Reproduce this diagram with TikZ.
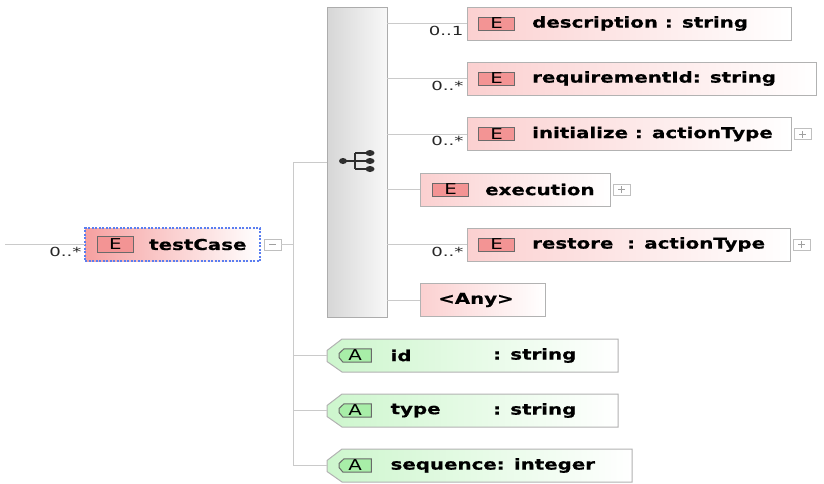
\documentclass[tikz,border=0pt]{standalone}
\usepackage{fontspec}
\newfontfamily\xsdfont[FakeStretch=1.32, BoldFeatures={FakeBold=0.6}]{DejaVu Sans}
\newfontfamily\multfont[FakeStretch=1.45]{DejaVu Sans}
\usetikzlibrary{positioning,backgrounds}

\definecolor{elemfill}{HTML}{FBD0D0}
\definecolor{rootfill}{HTML}{F6A0A0}
\definecolor{badgered}{HTML}{F39494}
\definecolor{badgeedge}{HTML}{6A6A6A}
\definecolor{attrfill}{HTML}{CDF6CD}
\definecolor{badgegreen}{HTML}{A8EEA8}
\definecolor{wiregray}{HTML}{CACACA}
\definecolor{boxgray}{HTML}{B2B2B2}
\definecolor{focusblue}{HTML}{5A7EF0}
\definecolor{compleft}{HTML}{D6D6D6}
\definecolor{compright}{HTML}{F8F8F8}
\definecolor{iconfill}{HTML}{2E2E2E}

\tikzset{
  wire/.style={draw=wiregray, line width=1pt},
  elembox/.style={draw=boxgray, line width=1pt, left color=elemfill, right color=white,
    minimum height=33pt, inner sep=0pt, outer sep=0pt, anchor=west},
  rootbox/.style={draw=focusblue, dash pattern=on 2pt off 1.5pt, line width=1.8pt,
    left color=rootfill, right color=white, minimum width=175pt, minimum height=33pt,
    inner sep=0pt, outer sep=0pt, anchor=west},
  attrbox/.style={minimum height=33pt, inner sep=0pt, outer sep=0pt, anchor=west},
  attrframe/.style={draw=boxgray, line width=1pt, left color=attrfill, right color=white},
  badgeframe/.style={draw=badgeedge, line width=1pt, fill=badgegreen},
  compositor/.style={draw=gray!65, line width=1pt, left color=compleft, right color=compright,
    minimum width=60pt, minimum height=310pt, inner sep=0pt, outer sep=0pt},
  ebadge/.style={draw=badgeedge, fill=badgered, line width=1pt, minimum width=36pt,
    minimum height=13pt, inner sep=0pt, font=\xsdfont\fontsize{15}{15}\selectfont},
  abadge/.style={minimum width=32pt, minimum height=13pt, inner sep=0pt,
    font=\xsdfont\fontsize{15}{15}\selectfont},
  elabel/.style={font=\xsdfont\bfseries\fontsize{15}{18}\selectfont, inner sep=0pt, anchor=west},
  mult/.style={font=\multfont\fontsize{12.5}{14}\selectfont, text=black!85, inner sep=2pt},
  expander/.style={draw=gray!50, fill=white, line width=0.8pt, minimum width=17pt,
    minimum height=11pt, inner sep=0pt, outer sep=0pt, anchor=west},
  plusbox/.style={expander, path picture={
    \draw[gray!75, line width=0.6pt]
      ([xshift=-3.5pt]path picture bounding box.center) -- ([xshift=3.5pt]path picture bounding box.center)
      ([yshift=-3.5pt]path picture bounding box.center) -- ([yshift=3.5pt]path picture bounding box.center);}},
  minusbox/.style={expander, path picture={
    \draw[gray!75, line width=0.6pt]
      ([xshift=-3.5pt]path picture bounding box.center) -- ([xshift=3.5pt]path picture bounding box.center);}},
}

\begin{document}
\begin{tikzpicture}[x=1pt,y=-1pt]
\useasboundingbox (0,0) rectangle (824,483);

% Element testCase
\coordinate (in) at (5,244.5);
\node[rootbox] (root) at (85,244.5) {};
\node[ebadge, minimum height=16pt, right=12pt of root.west] (rootE) {E};
\node[elabel, right=15pt of rootE] {testCase};
\node[minusbox, right=4pt of root] (rootX) {};
\draw[wire] (in) -- (root.west) node[mult, below left=0pt and 1pt] {0..*};

% Sequenz
\node[compositor] (seq) at (357,162) {};
\begin{scope}[shift={(seq.center)}]
  \draw[iconfill, line width=1.1pt] (-14,-1) -- (-2,-1) (-2,-9) -- (-2,7)
    (-2,-9) -- (12,-9) (-2,-1) -- (12,-1) (-2,7) -- (12,7);
  \fill[iconfill] (-14,-1) ellipse (4pt and 3pt);
  \fill[iconfill] (13,-9) ellipse (4.5pt and 3pt);
  \fill[iconfill] (13,-1) ellipse (4.5pt and 3pt);
  \fill[iconfill] (13,7) ellipse (4.5pt and 3pt);
\end{scope}

% Kindelemente
\node[elembox, minimum width=324pt] (desc) at (467,23.5) {};
\node[ebadge, right=11pt of desc.west] (descE) {E};
\node[elabel, right=17pt of descE] {description : string};

\node[elembox, minimum width=349pt] (reqid) at (467,78.5) {};
\node[ebadge, right=11pt of reqid.west] (reqidE) {E};
\node[elabel, right=17pt of reqidE] {requirementId: string};

\node[elembox, minimum width=324pt] (init) at (467,134) {};
\node[ebadge, right=11pt of init.west] (initE) {E};
\node[elabel, right=17pt of initE] {initialize : actionType};
\node[plusbox, right=3pt of init] (initX) {};

\node[elembox, minimum width=190pt] (exec) at (420,189.5) {};
\node[ebadge, right=12pt of exec.west] (execE) {E};
\node[elabel, right=16pt of execE] {execution};
\node[plusbox, right=3pt of exec] (execX) {};

\node[elembox, minimum width=323pt] (restore) at (467,244.5) {};
\node[ebadge, right=11pt of restore.west] (restoreE) {E};
\node[elabel, right=17pt of restoreE] {restore~ : actionType};
\node[plusbox, right=3pt of restore] (restoreX) {};

\node[elembox, minimum width=125pt] (any) at (420,300) {};
\node[elabel, right=18pt of any.west] {<Any>};

\draw[wire] (seq.east |- desc.west) -- (desc.west) node[mult, below left=0pt and 1pt] {0..1};
\draw[wire] (seq.east |- reqid.west) -- (reqid.west) node[mult, below left=0pt and 1pt] {0..*};
\draw[wire] (seq.east |- init.west) -- (init.west) node[mult, below left=0pt and 1pt] {0..*};
\draw[wire] (seq.east |- exec.west) -- (exec.west);
\draw[wire] (seq.east |- restore.west) -- (restore.west) node[mult, below left=0pt and 1pt] {0..*};
\draw[wire] (seq.east |- any.west) -- (any.west);

% Attribute
\coordinate (typecol) at (493,0);
\node[attrbox, minimum width=291pt] (id) at (327,355.5) {};
\node[abadge, right=12pt of id.west] (id-badge) {A};
\node[elabel, right=19pt of id-badge] {id};
\node[elabel] at (id.west -| typecol) {: string};

\node[attrbox, minimum width=291pt] (type) at (327,410.5) {};
\node[abadge, right=12pt of type.west] (type-badge) {A};
\node[elabel, right=19pt of type-badge] {type};
\node[elabel] at (type.west -| typecol) {: string};

\node[attrbox, minimum width=305pt] (seqnr) at (327,465.5) {};
\node[abadge, right=12pt of seqnr.west] (seqnr-badge) {A};
\node[elabel, right=19pt of seqnr-badge] {sequence: integer};

\begin{scope}[on background layer]
  \foreach \a in {id,type,seqnr} {
    \path[attrframe] ([xshift=15pt]\a.north west) -- (\a.north east) -- (\a.south east)
      -- ([xshift=15pt]\a.south west) -- ([yshift=-6pt]\a.west) -- ([yshift=5pt]\a.west) -- cycle;
    \path[badgeframe] ([xshift=5pt]\a-badge.north west) -- (\a-badge.north east)
      -- (\a-badge.south east) -- ([xshift=4pt]\a-badge.south west)
      -- ([yshift=-2pt]\a-badge.west) -- ([yshift=2pt]\a-badge.west) -- cycle;
  }
\end{scope}

% Verbindungen testCase
\coordinate (trunk) at (293,244.5);
\draw[wire] (rootX) -- (trunk);
\draw[wire] (trunk |- seq.west) -- (trunk |- seqnr.west);
\draw[wire] (trunk |- seq.west) -- (seq.west);
\draw[wire] (trunk |- id.west) -- (id.west);
\draw[wire] (trunk |- type.west) -- (type.west);
\draw[wire] (trunk |- seqnr.west) -- (seqnr.west);

\end{tikzpicture}
\end{document}
